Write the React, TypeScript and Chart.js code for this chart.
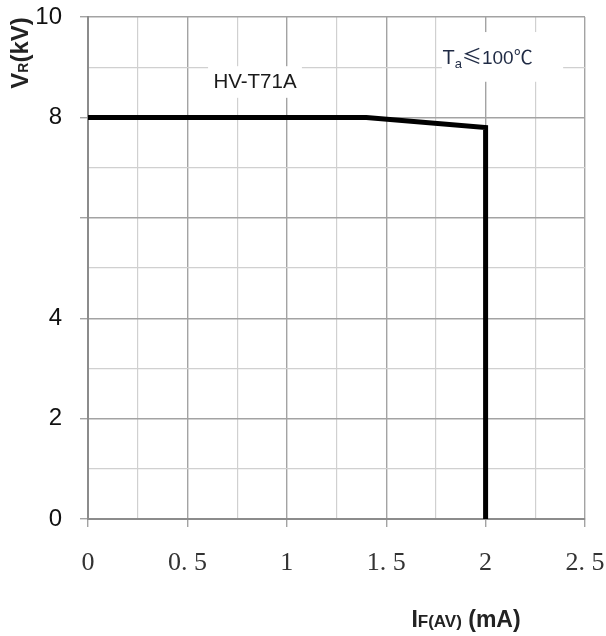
import { useEffect, useRef } from "react";
import { Chart, registerables } from "chart.js";

Chart.register(...registerables);

// ---- data ----
const currentMA = [0, 1.4, 2, 2];
const voltageKV = [8, 8, 7.8, 0];
const xTickValues = [0, 0.5, 1, 1.5, 2, 2.5];
const xTickLabels = ["0", "0. 5", "1", "1. 5", "2", "2. 5"];
const yTickValues = [0, 2, 4, 8, 10];
const yTickLabels = ["0", "2", "4", "8", "10"];
const seriesName = "HV-T71A";

const isMult = (v: number, s: number) => Math.abs(v / s - Math.round(v / s)) < 1e-6;

type Run = { text: string; font: string; dy?: number };

function runsWidth(ctx: CanvasRenderingContext2D, runs: Run[]) {
  let w = 0;
  for (const r of runs) {
    ctx.font = r.font;
    w += ctx.measureText(r.text).width;
  }
  return w;
}

function drawRuns(ctx: CanvasRenderingContext2D, runs: Run[], x: number, y: number) {
  let cx = x;
  ctx.textAlign = "left";
  ctx.textBaseline = "alphabetic";
  for (const r of runs) {
    ctx.font = r.font;
    ctx.fillText(r.text, cx, y + (r.dy || 0));
    cx += ctx.measureText(r.text).width;
  }
}

const SANS = "'Liberation Sans', Arial, sans-serif";
const CJK = "'Noto Sans CJK SC', 'Liberation Sans', sans-serif";

const overlayPlugin = {
  id: "overlay",
  beforeDatasetsDraw(chart: any) {
    const { ctx, scales } = chart;
    const xs = scales.x;
    const ys = scales.y;
    const box = (x0: number, x1: number, y0: number, y1: number) => {
      const px0 = xs.getPixelForValue(x0);
      const px1 = xs.getPixelForValue(x1);
      const py0 = ys.getPixelForValue(y0);
      const py1 = ys.getPixelForValue(y1);
      ctx.fillStyle = "#ffffff";
      ctx.fillRect(px0, py0, px1 - px0, py1 - py0);
    };
    ctx.save();
    box(0.604, 1.076, 9.02, 8.39);
    box(1.78, 2.39, 9.7, 8.71);
    ctx.restore();
  },
  afterDraw(chart: any) {
    const { ctx, scales } = chart;
    const xs = scales.x;
    const ys = scales.y;
    ctx.save();

    // series label
    ctx.fillStyle = "#1a1a1a";
    ctx.font = `20.5px ${SANS}`;
    ctx.textAlign = "center";
    ctx.textBaseline = "alphabetic";
    ctx.fillText(seriesName, xs.getPixelForValue(0.84), ys.getPixelForValue(8.58));

    // temperature note
    const taRuns: Run[] = [
      { text: "T", font: `20px ${SANS}` },
      { text: "a", font: `13px ${SANS}`, dy: 4 },
      { text: "≤", font: `20px ${CJK}` },
      { text: "100", font: `19px ${SANS}` },
      { text: "℃", font: `19px ${CJK}` },
    ];
    ctx.fillStyle = "#1f2a44";
    const taW = runsWidth(ctx, taRuns);
    const taCx = xs.getPixelForValue(2.01);
    drawRuns(ctx, taRuns, taCx - taW / 2, ys.getPixelForValue(9.06));

    // x axis title
    ctx.fillStyle = "#222222";
    const xRuns: Run[] = [
      { text: "I", font: `bold 23px ${SANS}` },
      { text: "F(AV)", font: `bold 17px ${SANS}` },
      { text: " (mA)", font: `bold 23px ${SANS}` },
    ];
    const xw = runsWidth(ctx, xRuns);
    drawRuns(ctx, xRuns, 466 - xw / 2, 627);

    // y axis title
    const yRuns: Run[] = [
      { text: "V", font: `bold 24px ${SANS}` },
      { text: "R", font: `bold 14px ${SANS}` },
      { text: "(kV)", font: `bold 24px ${SANS}` },
    ];
    const yw = runsWidth(ctx, yRuns);
    ctx.translate(28, 53);
    ctx.rotate(-Math.PI / 2);
    drawRuns(ctx, yRuns, -yw / 2, 0);

    ctx.restore();
  },
};

export default function App() {
  const ref = useRef<HTMLCanvasElement | null>(null);

  useEffect(() => {
    document.body.style.margin = "0";
    const canvas = ref.current;
    if (!canvas) return;
    const chart = new Chart(canvas, {
      type: "line",
      data: {
        datasets: [
          {
            label: seriesName,
            data: currentMA.map((x, i) => ({ x, y: voltageKV[i] })),
            borderColor: "#000000",
            borderWidth: 5,
            borderJoinStyle: "miter",
            borderCapStyle: "butt",
            pointRadius: 0,
            tension: 0,
            fill: false,
          },
        ],
      },
      options: {
        animation: false,
        responsive: false,
        maintainAspectRatio: false,
        devicePixelRatio: 1,
        layout: { padding: { top: 17, right: 21, left: 0, bottom: 0 } },
        plugins: {
          legend: { display: false },
          tooltip: { enabled: false },
        },
        scales: {
          x: {
            type: "linear",
            min: 0,
            max: 2.5,
            afterFit: (s: any) => {
              s.height = 117;
              s.paddingLeft = 0;
              s.paddingRight = 0;
            },
            ticks: {
              stepSize: 0.25,
              autoSkip: false,
              maxRotation: 0,
              minRotation: 0,
              padding: 21,
              color: "#333333",
              font: { family: "'Liberation Serif', 'DejaVu Serif', serif", size: 26 },
              callback: (v: any) => {
                const i = xTickValues.findIndex((t) => Math.abs(t - Number(v)) < 1e-6);
                return i >= 0 ? xTickLabels[i] : "";
              },
            },
            grid: {
              drawTicks: true,
              tickLength: 8,
              color: (c: any) => (isMult(c.tick.value, 0.5) ? "#a3a3a3" : "#d0d0d0"),
              lineWidth: (c: any) => (isMult(c.tick.value, 0.5) ? 1.4 : 1.2),
              tickColor: (c: any) => (isMult(c.tick.value, 0.5) ? "#a3a3a3" : "rgba(0,0,0,0)"),
              tickWidth: 1.4,
            },
            border: { color: "#8c8c8c", width: 2 },
          },
          y: {
            type: "linear",
            min: 0,
            max: 10,
            afterFit: (s: any) => {
              s.width = 88;
              s.paddingTop = 0;
              s.paddingBottom = 0;
            },
            ticks: {
              stepSize: 1,
              autoSkip: false,
              padding: 18,
              color: "#111111",
              font: { family: SANS, size: 24 },
              callback: (v: any) => {
                const i = yTickValues.findIndex((t) => Math.abs(t - Number(v)) < 1e-6);
                return i >= 0 ? yTickLabels[i] : "";
              },
            },
            grid: {
              drawTicks: true,
              tickLength: 8,
              color: (c: any) => (isMult(c.tick.value, 2) ? "#a3a3a3" : "#d0d0d0"),
              lineWidth: (c: any) => (isMult(c.tick.value, 2) ? 1.4 : 1.2),
              tickColor: (c: any) => (isMult(c.tick.value, 2) ? "#a3a3a3" : "rgba(0,0,0,0)"),
              tickWidth: 1.4,
            },
            border: { color: "#8c8c8c", width: 2 },
          },
        },
      },
      plugins: [overlayPlugin],
    } as any);
    return () => chart.destroy();
  }, []);

  return (
    <div style={{ width: 606, height: 636, background: "#ffffff" }}>
      <canvas ref={ref} width={606} height={636} style={{ display: "block" }} />
    </div>
  );
}
